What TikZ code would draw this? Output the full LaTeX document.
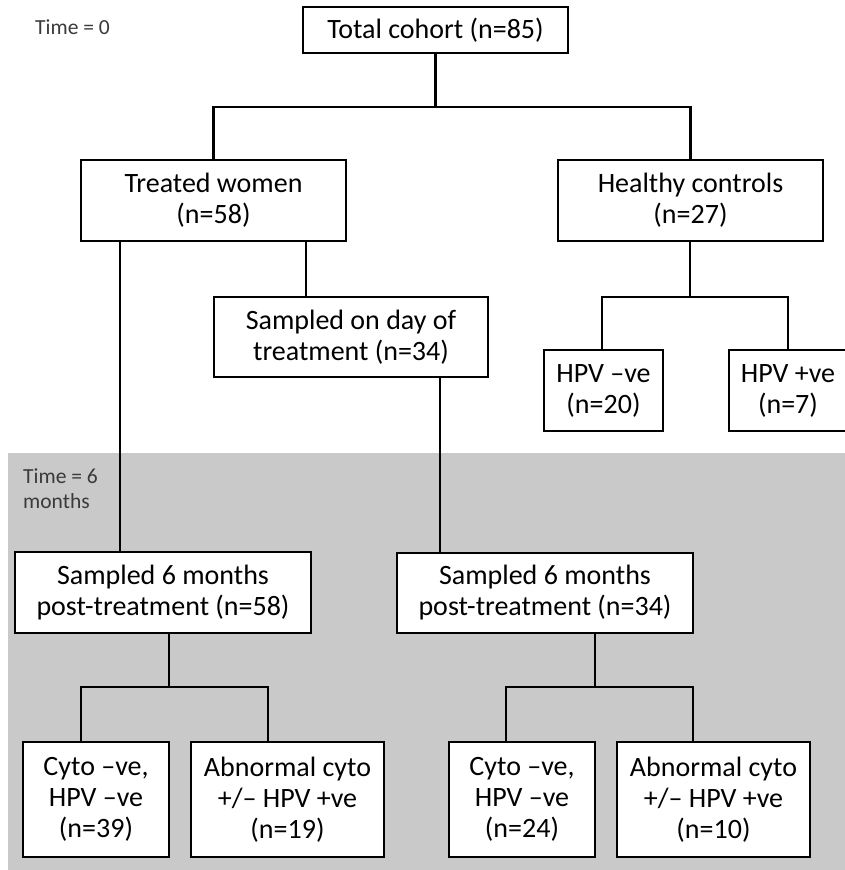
\documentclass[tikz,border=0pt]{standalone}
\usepackage{fontspec}
\setmainfont{Carlito}
\definecolor{bandgray}{HTML}{C9C9C9}
\definecolor{labelgray}{HTML}{3A3A3A}
\begin{document}
\begin{tikzpicture}[x=1pt,y=-1pt,
  box/.style={draw=black, line width=2.6pt, fill=white, inner sep=0pt, align=center,
    font=\fontsize{28}{31}\selectfont},
  conn/.style={draw=black, line width=2.5pt},
  timelabel/.style={anchor=north west, inner sep=0pt, align=left, text=labelgray,
    font=\fontsize{21.5}{25}\selectfont}]
\useasboundingbox (0,0) rectangle (845,870);
\fill[white] (0,0) rectangle (845,870);
\fill[bandgray] (8,453) rectangle (845,870);

\node[timelabel] (t0) at (35,20) {Time = 0};
\node[timelabel] (t6) at (23,469) {Time = 6\\months};

\node[box, minimum width=265pt, minimum height=46pt] (total) at (435.5,30) {Total cohort (n=85)};
\node[box, minimum width=265pt, minimum height=81pt] (treated) at (213.5,200.5) {Treated women\\(n=58)};
\node[box, minimum width=265pt, minimum height=81pt] (healthy) at (690.5,200.5) {Healthy controls\\(n=27)};
\node[box, minimum width=274pt, minimum height=80pt] (sday) at (351,337) {Sampled on day of\\treatment (n=34)};
\node[box, minimum width=119pt, minimum height=81pt] (hneg) at (603.5,390.5) {HPV –ve\\(n=20)};
\node[box, minimum width=118pt, minimum height=81pt] (hpos) at (788,390.5) {HPV +ve\\(n=7)};
\node[box, minimum width=296pt, minimum height=81pt] (sl) at (163,592.5) {Sampled 6 months\\post-treatment (n=58)};
\node[box, minimum width=296pt, minimum height=80pt] (sr) at (545,593) {Sampled 6 months\\post-treatment (n=34)};
\node[box, minimum width=146pt, minimum height=115pt] (c1) at (96,799.5) {Cyto –ve,\\HPV –ve\\(n=39)};
\node[box, minimum width=193pt, minimum height=115pt] (a1) at (287.5,799.5) {Abnormal cyto\\+/– HPV +ve\\(n=19)};
\node[box, minimum width=146pt, minimum height=115pt] (c2) at (522,799.5) {Cyto –ve,\\HPV –ve\\(n=24)};
\node[box, minimum width=193pt, minimum height=115pt] (a2) at (713.5,799.5) {Abnormal cyto\\+/– HPV +ve\\(n=10)};

% helper coordinates for connector positions
\coordinate (y1) at (0,107);
\coordinate (y2) at (0,297);
\coordinate (y3) at (0,687);
\coordinate (xl) at (120,0);
\coordinate (xm) at (306,0);
\coordinate (xr) at (440,0);
\coordinate (xh) at (690,0);
\coordinate (xn) at (602,0);
\coordinate (xp) at (788,0);
\coordinate (xs1) at (169,0);
\coordinate (xa) at (81,0);
\coordinate (xb) at (268,0);
\coordinate (xs2) at (595,0);
\coordinate (xc) at (506,0);
\coordinate (xd) at (693,0);

\draw[conn] (total.south) -- (total.south |- y1);
\draw[conn] (total.south |- y1) -| (treated.north);
\draw[conn] (total.south |- y1) -| (healthy.north);
\draw[conn] (treated.south -| xl) -- (sl.north -| xl);
\draw[conn] (treated.south -| xm) -- (sday.north -| xm);
\draw[conn] (sday.south -| xr) -- (sr.north -| xr);
\draw[conn] (healthy.south -| xh) -- (y2 -| xh);
\draw[conn] (y2 -| xh) -| (hneg.north -| xn);
\draw[conn] (y2 -| xh) -| (hpos.north -| xp);
\draw[conn] (sl.south -| xs1) -- (y3 -| xs1);
\draw[conn] (y3 -| xs1) -| (c1.north -| xa);
\draw[conn] (y3 -| xs1) -| (a1.north -| xb);
\draw[conn] (sr.south -| xs2) -- (y3 -| xs2);
\draw[conn] (y3 -| xs2) -| (c2.north -| xc);
\draw[conn] (y3 -| xs2) -| (a2.north -| xd);
\end{tikzpicture}
\end{document}
